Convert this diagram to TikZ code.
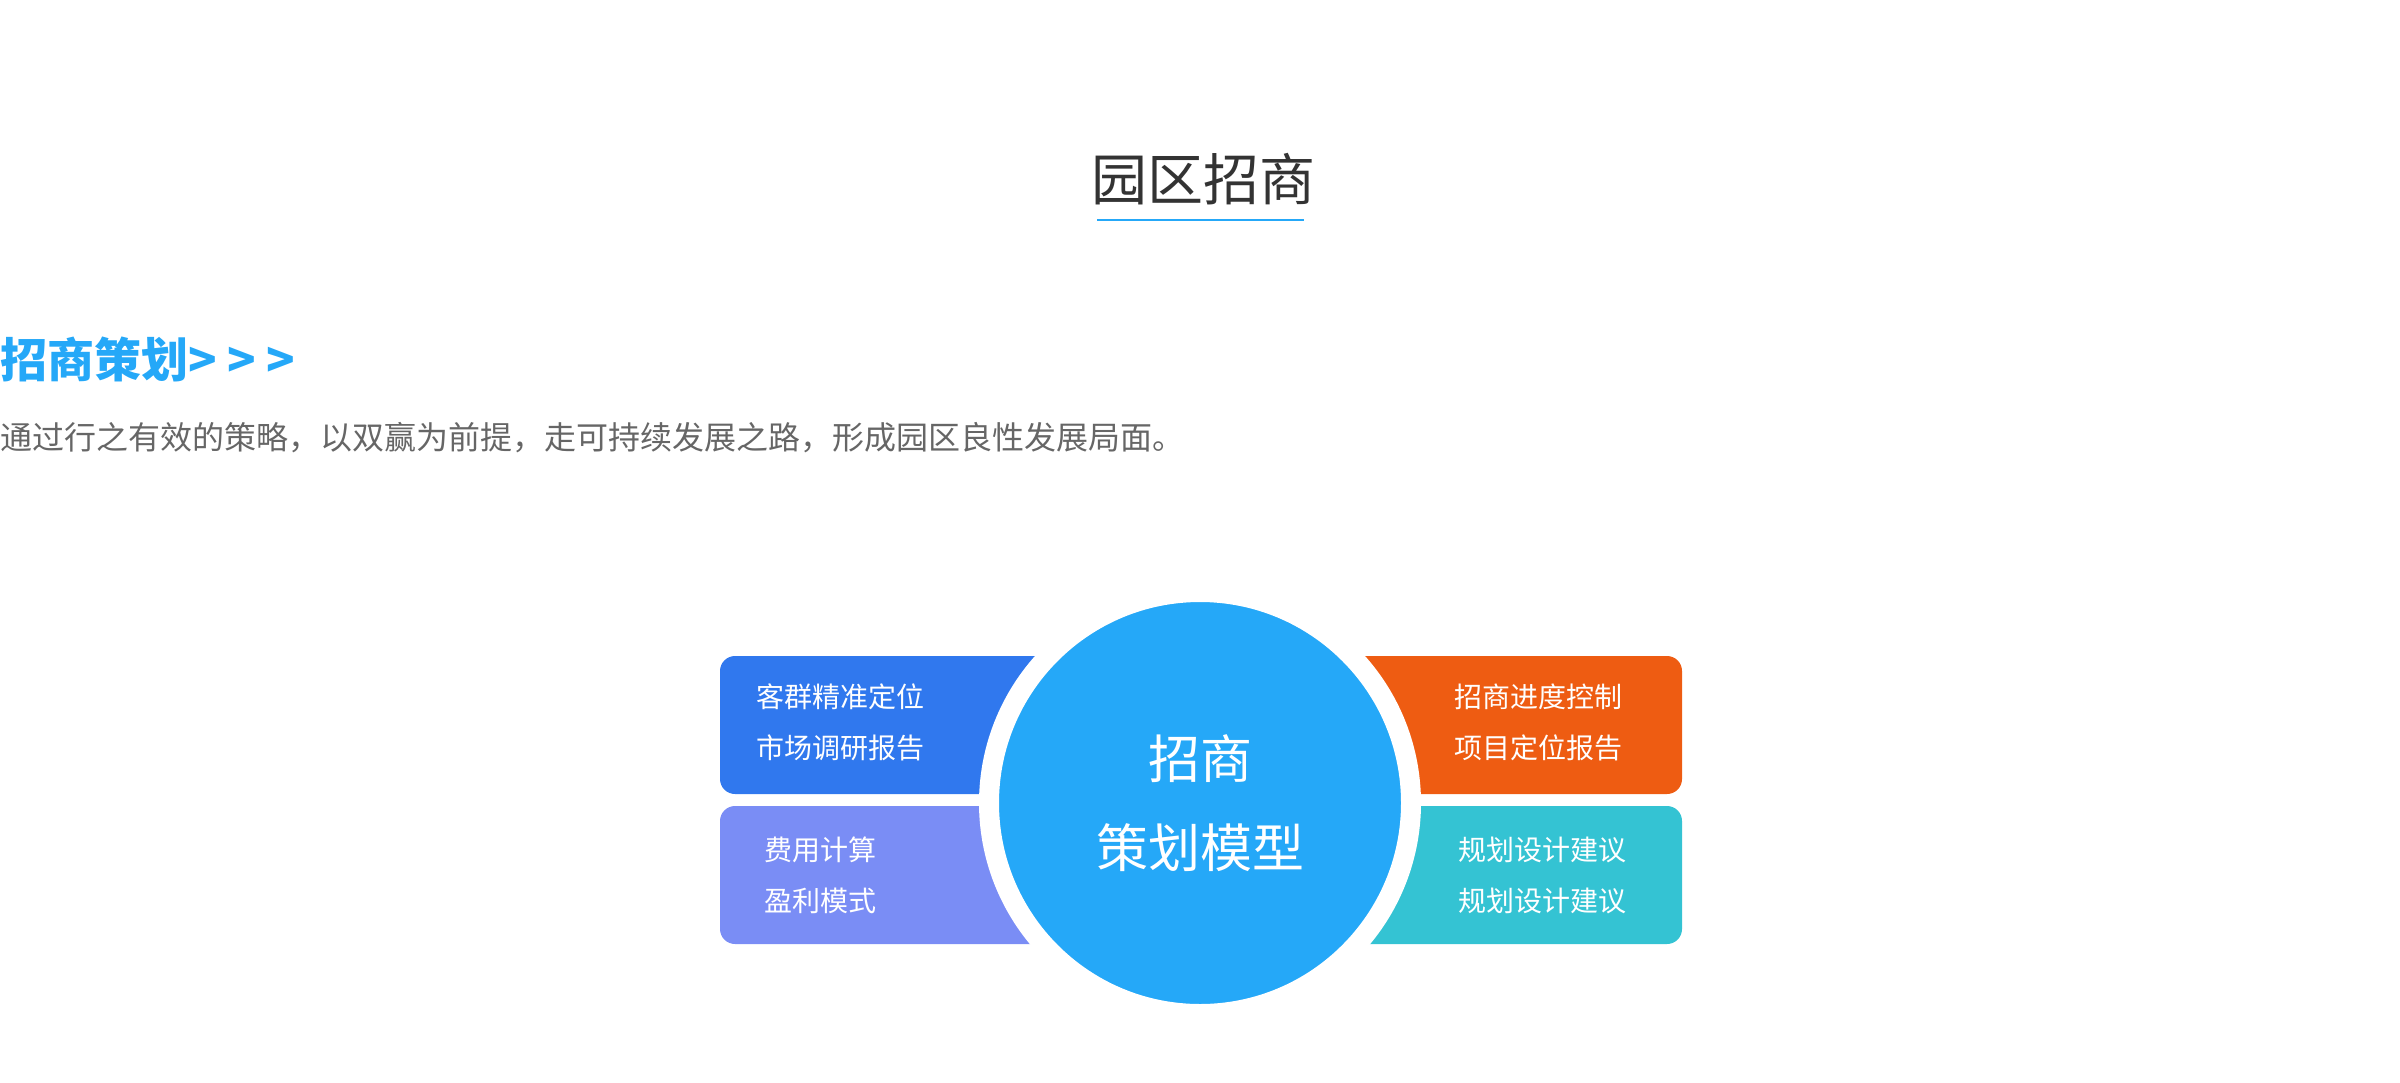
\documentclass[tikz,border=0pt]{standalone}
\usepackage{fontspec}
\setmainfont{Noto Sans CJK SC}
\usepackage{xcolor}
\usepackage{tikz}
\usetikzlibrary{positioning,calc}
\definecolor{titlegray}{HTML}{333333}
\definecolor{textgray}{HTML}{666666}
\definecolor{skyblue}{HTML}{25A8F8}
\definecolor{royalblue}{HTML}{3078EE}
\definecolor{lavender}{HTML}{7A8DF5}
\definecolor{deeporange}{HTML}{EE5C12}
\definecolor{tealblue}{HTML}{34C3D3}
\tikzset{
  card/.style={rounded corners=15pt, minimum width=480pt, minimum height=138pt, inner sep=0pt},
  cardtext/.style={anchor=west, align=left, text=white, inner sep=0pt, font=\fontsize{28}{51}\selectfont},
  hub/.style={circle, fill=skyblue, draw=white, line width=20pt, minimum size=422pt, inner sep=0pt, align=center, text=white, font=\fontsize{52}{89}\selectfont},
  plain/.style={inner sep=0pt}
}

\begin{document}
\begin{tikzpicture}[x=1pt, y=-1pt]
  \useasboundingbox (0,0) rectangle (2400,1082);

  \node[plain, text=titlegray, font=\fontsize{56}{60}\selectfont] (title) at (1203,179) {园区招商};
  \draw[skyblue, line width=2.5pt] (1097,220) -- (1304,220);

  \node[plain, anchor=west, text=skyblue, font=\fontsize{47}{50}\selectfont\bfseries] (heading) at (0,359) {招商策划> > >};
  \node[plain, anchor=west, text=textgray, font=\fontsize{32}{36}\selectfont] (intro) at (0,438) {通过行之有效的策略，以双赢为前提，走可持续发展之路，形成园区良性发展局面。};

  % four cards behind the hub
  \node[card, fill=royalblue] (plan) at (960,725) {};
  \node[card, fill=lavender] (cost) at (960,875) {};
  \node[card, fill=deeporange] (progress) at (1442,725) {};
  \node[card, fill=tealblue] (design) at (1442,875) {};

  \node[hub] (hub) at (1200,803) {招商\\策划模型};

  \node[cardtext] (plantext) at ([xshift=36pt, yshift=3pt]plan.west) {客群精准定位\\市场调研报告};
  \node[cardtext] (costtext) at ([xshift=44pt]cost.west) {费用计算\\盈利模式};
  \node[cardtext] (progresstext) at ([xshift=252pt, yshift=3pt]progress.west) {招商进度控制\\项目定位报告};
  \node[cardtext] (designtext) at ([xshift=256pt]design.west) {规划设计建议\\规划设计建议};
\end{tikzpicture}
\end{document}
